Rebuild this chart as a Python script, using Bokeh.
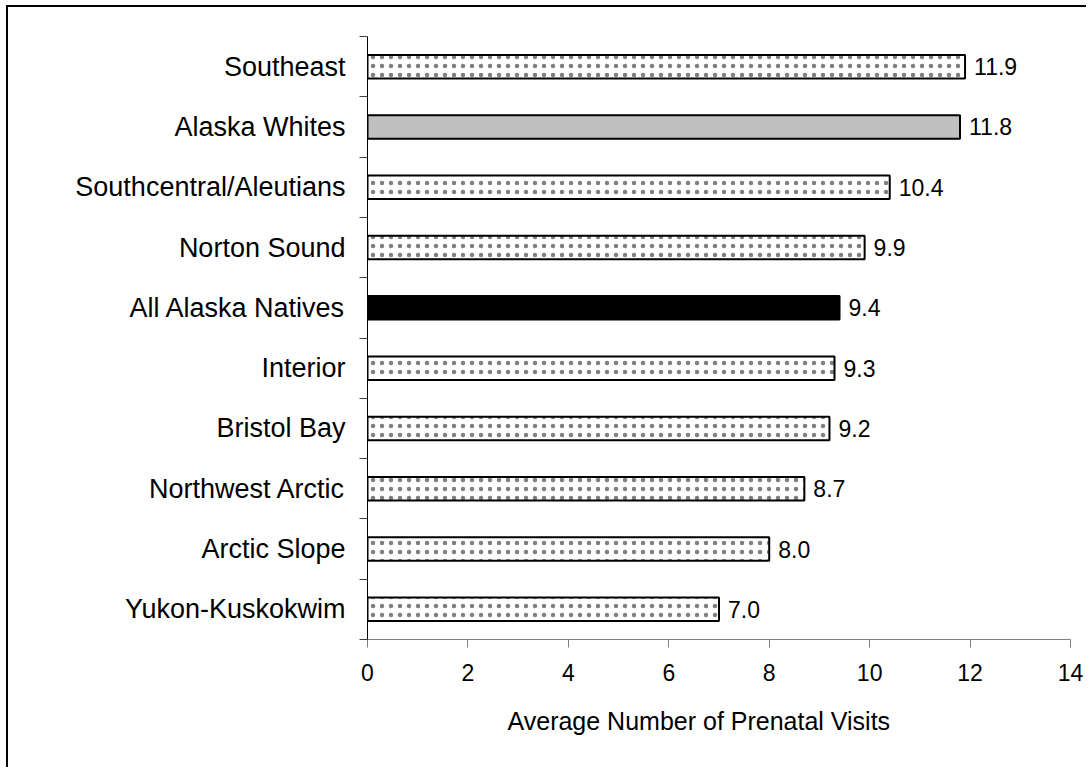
from bokeh.plotting import figure
from bokeh.models import ColumnDataSource, FixedTicker, Title, LabelSet
from bokeh.core.properties import value
from bokeh.embed import file_html
from bokeh.resources import INLINE

# ---- data (bottom to top) ----
categories = ["Yukon-Kuskokwim", "Arctic Slope", "Northwest Arctic", "Bristol Bay",
              "Interior", "All Alaska Natives", "Norton Sound",
              "Southcentral/Aleutians", "Alaska Whites", "Southeast"]
visits = [7.0, 8.0, 8.7, 9.2, 9.3, 9.4, 9.9, 10.4, 11.8, 11.9]
group = ["region", "region", "region", "region", "region", "native",
         "region", "region", "white", "region"]
x_ticks = [0, 2, 4, 6, 8, 10, 12, 14]
x_title = "Average Number of Prenatal Visits"

FONT = "Liberation Sans"
AXIS_GRAY = "#808080"

centers = [i + 0.5 for i in range(len(categories))]
labels = [f"{v:.1f}" for v in visits]

W, H = 1080, 762
p = figure(width=W, height=H, output_backend="svg", toolbar_location=None,
           x_range=(0, 14), y_range=(0, len(categories)),
           min_border_left=359, min_border_right=18,
           min_border_top=29, min_border_bottom=130)
p.stylesheets = [":host { margin-left: 6px; margin-top: 5px; "
                 "border-left: 2px solid black; border-top: 2px solid black; }"]
p.outline_line_color = None
p.xgrid.visible = False
p.ygrid.visible = False
p.background_fill_color = "white"
p.border_fill_color = "white"

styles = {
    "region": dict(fill_color="white", hatch_pattern="dot", hatch_color="#808080",
                   hatch_scale=9, hatch_weight=1.0),
    "native": dict(fill_color="black"),
    "white": dict(fill_color="#c0c0c0"),
}

for g, st in styles.items():
    idx = [i for i, gg in enumerate(group) if gg == g]
    src = ColumnDataSource(dict(y=[centers[i] for i in idx], v=[visits[i] for i in idx]))
    p.hbar(y="y", right="v", left=0, height=0.39, source=src,
           line_color="black", line_width=2, **st)

lab_src = ColumnDataSource(dict(x=visits, y=centers, t=labels))
p.add_layout(LabelSet(x="x", y="y", text="t", source=lab_src, x_offset=9,
                      text_baseline="middle", text_align="left",
                      text_font=value(FONT), text_font_size=value("23px"),
                      text_color="black"))

# y axis: labels at centers, ticks at boundaries
ya = p.yaxis[0]
ya.ticker = FixedTicker(ticks=centers, minor_ticks=list(range(len(categories) + 1)))
ya.major_label_overrides = {c: name for c, name in zip(centers, categories)}
ya.major_tick_in = 0
ya.major_tick_out = 0
ya.minor_tick_in = 0
ya.minor_tick_out = 8
ya.minor_tick_line_color = "#404040"
ya.axis_line_color = "black"
ya.major_label_standoff = 14
ya.major_label_text_font = FONT
ya.major_label_text_font_size = "27px"
ya.major_label_text_color = "black"

xa = p.xaxis[0]
xa.ticker = FixedTicker(ticks=x_ticks, minor_ticks=[])
xa.major_tick_in = 0
xa.major_tick_out = 8
xa.major_tick_line_color = AXIS_GRAY
xa.axis_line_color = AXIS_GRAY
xa.major_label_standoff = 16
xa.major_label_text_font = FONT
xa.major_label_text_font_size = "23px"
xa.major_label_text_color = "black"

p.add_layout(Title(text=x_title, align="left", offset=140, standoff=43,
                   text_font=FONT, text_font_size="25px", text_font_style="normal",
                   text_color="black"), "below")

open("out.html", "w").write(file_html(p, INLINE))
